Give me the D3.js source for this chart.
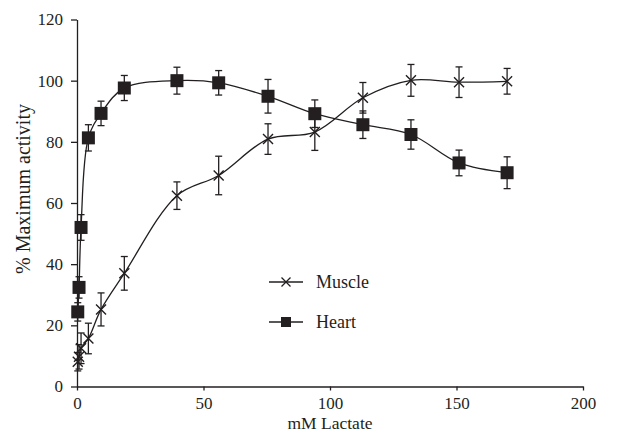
<!DOCTYPE html>
<html>
<head>
<meta charset="utf-8">
<script src="https://cdn.jsdelivr.net/npm/d3@7"></script>
<style>
  body { margin: 0; background: #fff; }
  text { font-family: "Liberation Serif", "Times New Roman", serif; fill: #231f20; }
</style>
</head>
<body>
<div id="chart"></div>
<script>
var width = 625;
var height = 443;
var margin = { top: 19.5, right: 42, bottom: 56.5, left: 77 };

// data (mM lactate vs % maximum activity)
var lactate = [0.3, 0.8, 1.6, 4.5, 9.5, 18.7, 39.5, 56, 75.5, 94, 113, 132, 151, 170];
var muscle = [8.1, 9.7, 12.5, 15.7, 25.2, 37, 62.4, 69, 80.9, 83.2, 94.4, 100.1, 99.5, 99.8];
var muscleErr = [3, 4, 5, 5, 5.4, 5.5, 4.5, 6.3, 5, 6, 5, 5.2, 5, 4.2];
var heart = [24.4, 32.4, 52, 81.3, 89.3, 97.6, 100, 99.3, 94.9, 89.2, 85.6, 82.4, 73.1, 69.9];
var heartErr = [3, 3.5, 4.2, 4.3, 4, 4.1, 4.4, 4, 5.5, 4.5, 4.5, 4.8, 4.2, 5.2];
var xTicks = [0, 50, 100, 150, 200];
var yTicks = [0, 20, 40, 60, 80, 100, 120];
var seriesNames = ["Muscle", "Heart"];

var ink = "#231f20";
var serif = "'Liberation Serif', 'Times New Roman', serif";

var svg = d3.select("#chart")
  .append("svg")
  .attr("width", width)
  .attr("height", height)
  .style("font-family", serif);

var xScale = d3.scaleLinear()
  .domain([0, 200])
  .range([margin.left, width - margin.right]);

var yScale = d3.scaleLinear()
  .domain([0, 120])
  .range([height - margin.bottom, margin.top]);

// axes
var xAxis = svg.append("g")
  .attr("transform", `translate(0, ${height - margin.bottom})`)
  .call(d3.axisBottom(xScale).tickValues(xTicks).tickSize(4).tickSizeOuter(0).tickPadding(6));

var yAxis = svg.append("g")
  .attr("transform", `translate(${margin.left}, 0)`)
  .call(d3.axisLeft(yScale).tickValues(yTicks).tickSize(6).tickSizeOuter(0).tickPadding(8));

[xAxis, yAxis].forEach(function(ax) {
  ax.attr("font-family", serif).attr("font-size", 17);
  ax.selectAll("path, line").attr("stroke", ink).attr("stroke-width", 1.3);
  ax.selectAll("text")
    .style("font-family", serif)
    .style("font-size", "17px")
    .attr("fill", ink);
});

// axis titles
svg.append("text")
  .attr("x", (margin.left + width - margin.right) / 2)
  .attr("y", 429)
  .attr("text-anchor", "middle")
  .style("font-size", "17.5px")
  .text("mM Lactate");

svg.append("text")
  .attr("transform", "translate(30, 189) rotate(-90)")
  .attr("text-anchor", "middle")
  .style("font-size", "20px")
  .text("% Maximum activity");

var rows = function(vals, errs) {
  return lactate.map(function(x, i) { return { x: x, y: vals[i], e: errs[i] }; });
};
var muscleData = rows(muscle, muscleErr);
var heartData = rows(heart, heartErr);

var line = d3.line()
  .x(d => xScale(d.x))
  .y(d => yScale(d.y))
  .curve(d3.curveCatmullRom.alpha(0.5));

function drawErrors(data) {
  var g = svg.append("g").attr("stroke", ink).attr("stroke-width", 1.3);
  data.forEach(function(d) {
    var cx = xScale(d.x);
    g.append("line")
      .attr("x1", cx).attr("x2", cx)
      .attr("y1", yScale(d.y - d.e)).attr("y2", yScale(d.y + d.e));
    [d.y - d.e, d.y + d.e].forEach(function(v) {
      g.append("line")
        .attr("x1", cx - 3.5).attr("x2", cx + 3.5)
        .attr("y1", yScale(v)).attr("y2", yScale(v));
    });
  });
}

drawErrors(muscleData);
drawErrors(heartData);

svg.append("path")
  .datum(muscleData)
  .attr("fill", "none")
  .attr("stroke", ink)
  .attr("stroke-width", 1.3)
  .attr("d", line);

svg.append("path")
  .datum(heartData)
  .attr("fill", "none")
  .attr("stroke", ink)
  .attr("stroke-width", 1.3)
  .attr("d", line);

function crossPath(cx, cy, r) {
  return `M${cx - r},${cy - r}L${cx + r},${cy + r}M${cx - r},${cy + r}L${cx + r},${cy - r}`;
}

// muscle markers: crosses
svg.append("g").selectAll("path")
  .data(muscleData)
  .enter()
  .append("path")
  .attr("d", d => crossPath(xScale(d.x), yScale(d.y), 5))
  .attr("stroke", ink)
  .attr("stroke-width", 1.4);

// heart markers: filled squares
svg.append("g").selectAll("rect")
  .data(heartData)
  .enter()
  .append("rect")
  .attr("x", d => xScale(d.x) - 6.5)
  .attr("y", d => yScale(d.y) - 6.5)
  .attr("width", 13)
  .attr("height", 13)
  .attr("fill", ink);

// legend
var legend = svg.append("g");
var legendY = [282, 322];
seriesNames.forEach(function(name, i) {
  var ly = legendY[i];
  legend.append("line")
    .attr("x1", 269).attr("x2", 303)
    .attr("y1", ly).attr("y2", ly)
    .attr("stroke", ink).attr("stroke-width", 1.3);
  if (i === 0) {
    legend.append("path")
      .attr("d", crossPath(286, ly, 4.5))
      .attr("stroke", ink).attr("stroke-width", 1.3);
  } else {
    legend.append("rect")
      .attr("x", 281).attr("y", ly - 5)
      .attr("width", 10).attr("height", 10)
      .attr("fill", ink);
  }
  legend.append("text")
    .attr("x", 316)
    .attr("y", ly + 5.5)
    .style("font-size", "18px")
    .text(name);
});
</script>
</body>
</html>
